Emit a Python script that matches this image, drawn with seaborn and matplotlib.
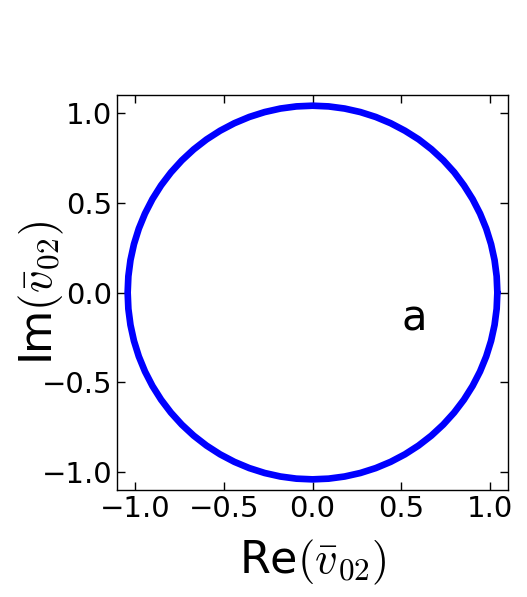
import numpy as np
import pandas as pd
import seaborn as sns
import matplotlib
matplotlib.use('Agg')
import matplotlib.pyplot as plt

# angle (degrees) and modulus of v02 read from the ring
angle = [0, 5, 10, 15, 20, 25, 30, 35, 40, 45, 50, 55, 60, 65, 70, 75, 80, 85,
         90, 95, 100, 105, 110, 115, 120, 125, 130, 135, 140, 145, 150, 155, 160, 165, 170, 175,
         180, 185, 190, 195, 200, 205, 210, 215, 220, 225, 230, 235, 240, 245, 250, 255, 260, 265,
         270, 275, 280, 285, 290, 295, 300, 305, 310, 315, 320, 325, 330, 335, 340, 345, 350, 355, 360]
modulus = [1.040, 1.040, 1.040, 1.040, 1.040, 1.040, 1.040, 1.040, 1.041, 1.041, 1.041, 1.041, 1.040, 1.040, 1.040, 1.040, 1.040, 1.040,
           1.040, 1.040, 1.040, 1.040, 1.040, 1.040, 1.040, 1.040, 1.040, 1.040, 1.040, 1.040, 1.040, 1.040, 1.040, 1.040, 1.040, 1.040,
           1.040, 1.040, 1.040, 1.040, 1.040, 1.040, 1.040, 1.040, 1.040, 1.040, 1.040, 1.040, 1.040, 1.040, 1.040, 1.040, 1.040, 1.040,
           1.040, 1.040, 1.040, 1.040, 1.040, 1.040, 1.040, 1.040, 1.040, 1.040, 1.040, 1.040, 1.040, 1.040, 1.040, 1.040, 1.040, 1.040, 1.040]

ticks = [-1.0, -0.5, 0.0, 0.5, 1.0]


def main():
    sns.set_style("ticks", {"xtick.direction": "in", "ytick.direction": "in",
                            "xtick.top": True, "ytick.right": True,
                            "text.color": "black", "axes.labelcolor": "black",
                            "xtick.color": "black", "ytick.color": "black",
                            "axes.edgecolor": "black"})
    plt.rcParams['mathtext.fontset'] = 'cm'
    plt.rcParams['font.family'] = ['DejaVu Sans']

    th = np.deg2rad(angle)
    df = pd.DataFrame({"re": np.array(modulus) * np.cos(th),
                       "im": np.array(modulus) * np.sin(th)})

    fig = plt.figure(figsize=(5.27, 5.97), dpi=100)
    ax = fig.add_axes([0.222, 0.179, 0.742, 0.662])
    sns.lineplot(data=df, x="re", y="im", sort=False, estimator=None,
                 color="blue", linewidth=4.8, solid_joinstyle="round", ax=ax)

    ax.set_xlim(-1.1, 1.1)
    ax.set_ylim(-1.1, 1.1)
    ax.set_xticks(ticks)
    ax.set_yticks(ticks)
    ax.tick_params(labelsize=21, length=6, width=1)
    ax.set_xlabel(r"Re$(\bar{v}_{02})$", fontsize=32)
    ax.set_ylabel(r"Im$(\bar{v}_{02})$", fontsize=32)
    ax.xaxis.set_label_coords(0.5, -0.12)
    ax.yaxis.set_label_coords(-0.13, 0.5)
    for s in ax.spines.values():
        s.set_linewidth(1)
    ax.text(0.57, -0.21, "a", fontsize=30, ha="center", va="baseline")

    plt.savefig("out.png", dpi=100)
    plt.close()


if __name__ == '__main__':
    main()
